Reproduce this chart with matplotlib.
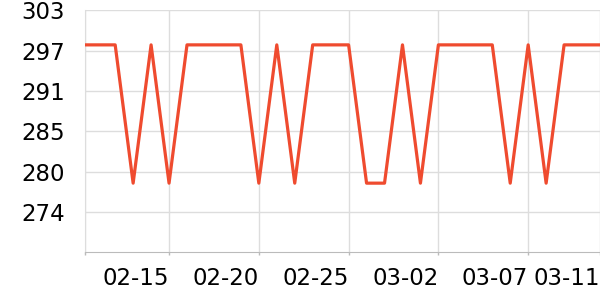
import numpy as np
import matplotlib
matplotlib.use("Agg")
import matplotlib.pyplot as plt
import matplotlib.dates as mdates

# daily readings, 2023-02-10 .. 2023-03-11
days = np.arange(np.datetime64("2023-02-10"), np.datetime64("2023-03-12"))
values = [298, 298, 298, 278, 298, 278, 298, 298, 298, 298,
          278, 298, 278, 298, 298, 298, 278, 278, 298, 278,
          298, 298, 298, 298, 278, 298, 278, 298, 298, 298]

tick_days = ["2023-02-15", "2023-02-20", "2023-02-25", "2023-03-02", "2023-03-07", "2023-03-11"]
tick_names = ["02-15", "02-20", "02-25", "03-02", "03-07", "03-11"]
y_labels = ["274", "280", "285", "291", "297", "303"]

GRID = "#dddddd"
LINE = "#ef4b2f"

fig = plt.figure(figsize=(6, 3), dpi=100)
ax = fig.add_axes([85 / 600, 47.7 / 300, 515 / 600, 242 / 300])

ax.plot(days.astype("datetime64[s]"), values, color=LINE, lw=2.3, zorder=3)

x_lo = np.datetime64("2023-02-10T07:40")
x_hi = np.datetime64("2023-03-11T00:00")
ax.set_xlim(mdates.date2num(x_lo), mdates.date2num(x_hi))
ax.set_ylim(268, 303)

xt = [mdates.date2num(x_lo)] + [mdates.date2num(np.datetime64(d)) for d in tick_days]
ax.set_xticks(xt)
ax.set_xticklabels([""] + tick_names)
for lab in ax.get_xticklabels():
    lab.set_horizontalalignment("right")

ax.set_yticks(np.linspace(268, 303, 7)[1:])
ax.set_yticklabels(y_labels)

ax.grid(True, color=GRID, lw=1)
ax.set_axisbelow(True)
for s in ["top", "right"]:
    ax.spines[s].set_visible(False)
ax.spines["left"].set_color(GRID)
ax.spines["bottom"].set_color("#bbbbbb")

ax.tick_params(axis="y", length=0, pad=14.5, labelsize=16.5, colors="black")
ax.tick_params(axis="x", length=2.5, width=1, color="#bbbbbb", pad=8, labelsize=16.5,
               labelcolor="black")

fig.savefig("out.png", dpi=100)
